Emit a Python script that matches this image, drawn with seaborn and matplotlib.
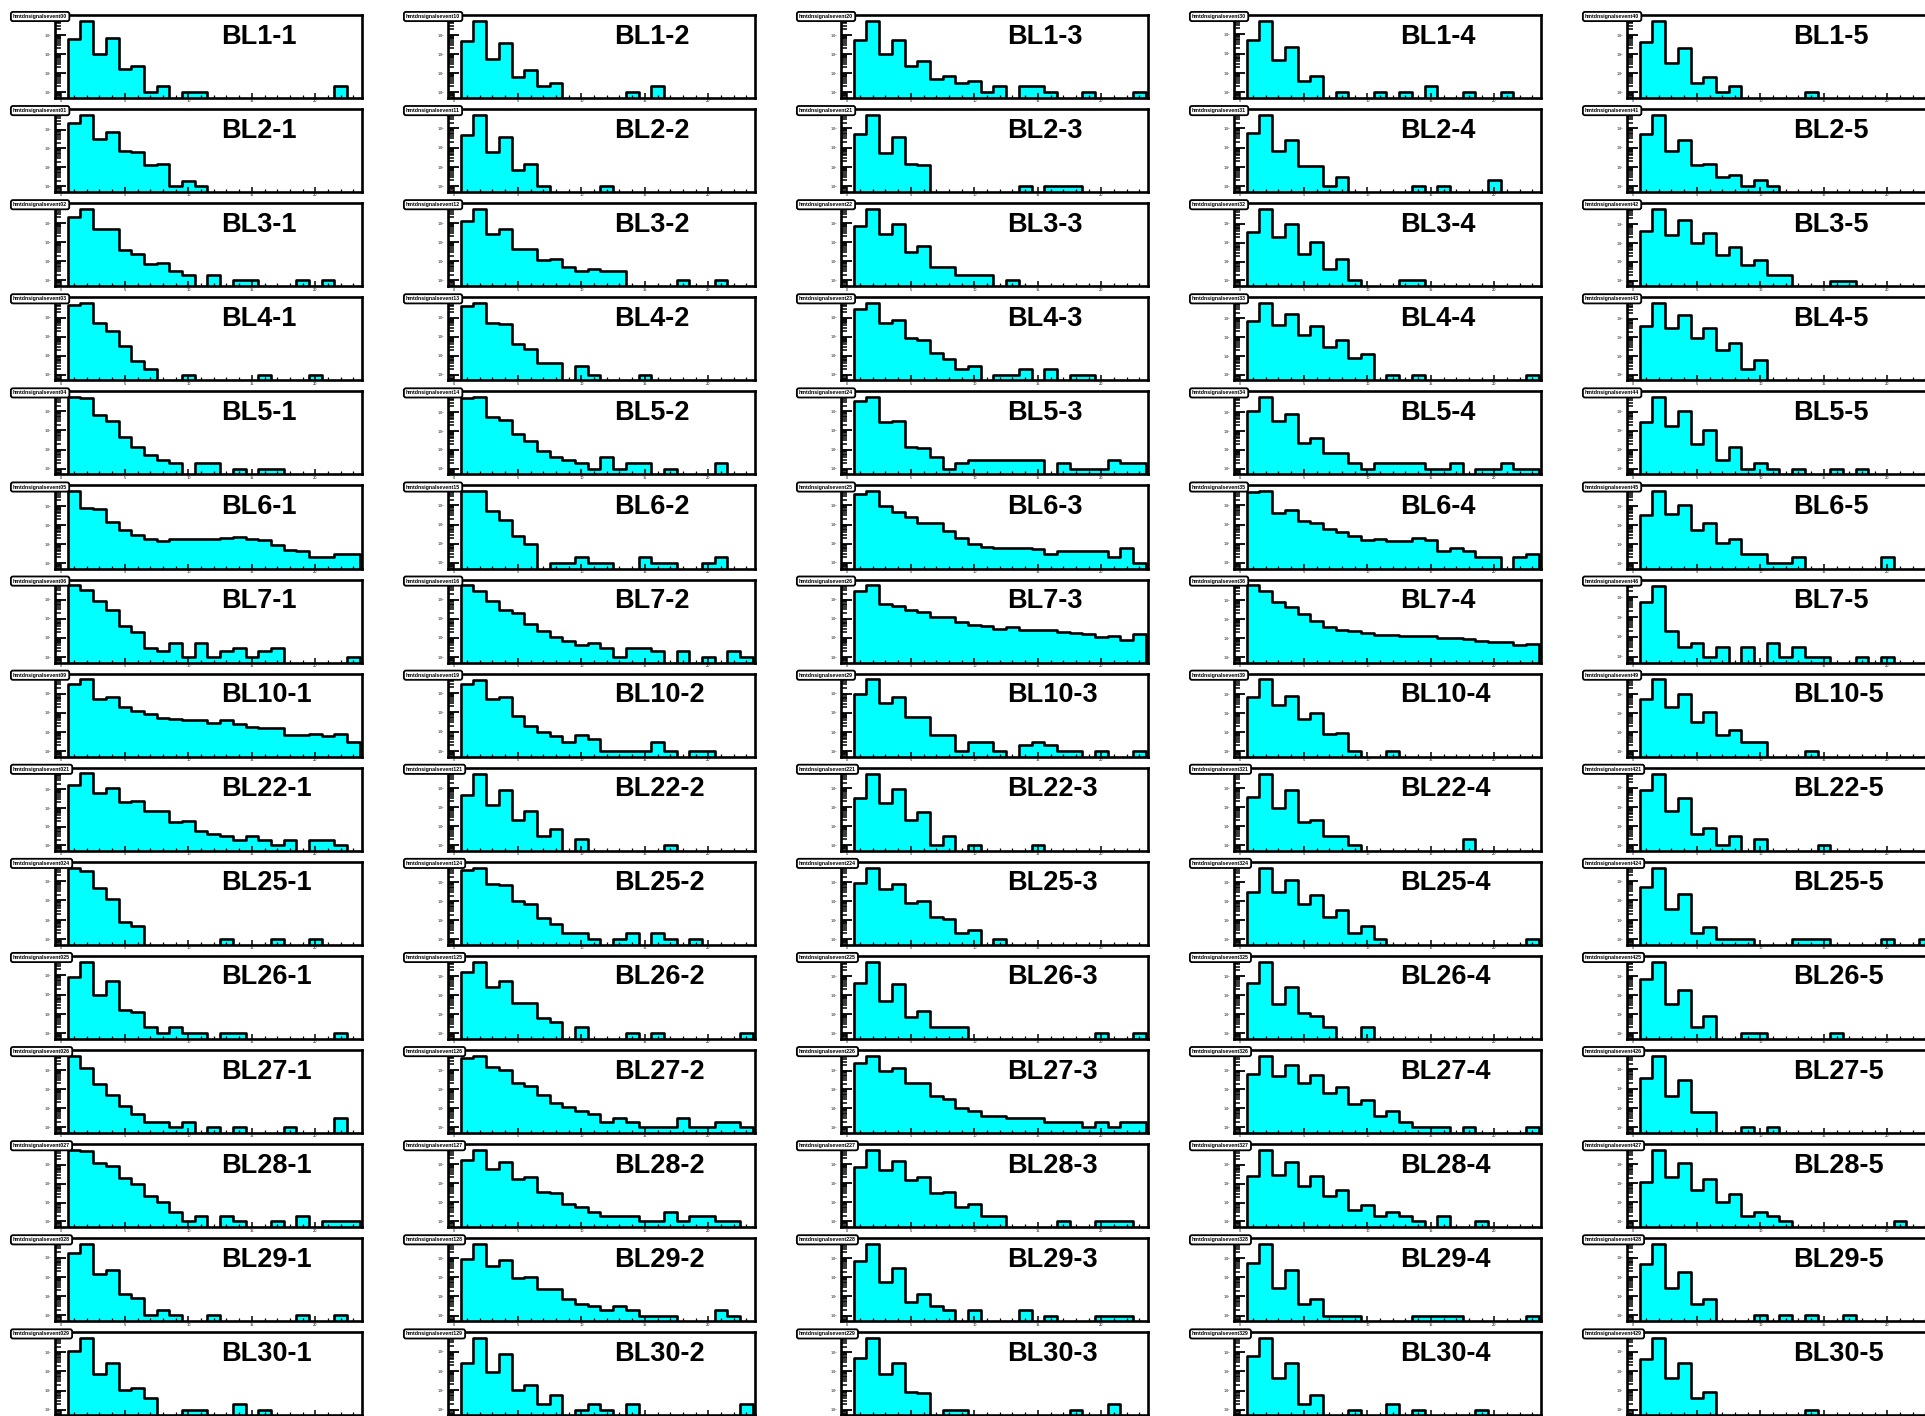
import numpy as np
import pandas as pd
import seaborn as sns
import matplotlib.pyplot as plt
from matplotlib.ticker import LogLocator, MultipleLocator, NullFormatter

# bin contents for bins 1..23 (bin 0 is empty everywhere)
BL1_1 = [620, 5500, 100, 700, 16, 24, 1, 2, 0, 1, 1, 0, 0, 0, 0, 0, 0, 0, 0, 0, 0, 2, 0]
BL1_2 = [470, 5500, 58, 360, 6, 14, 2, 3, 0, 0, 0, 0, 0, 1, 0, 2, 0, 0, 0, 0, 0, 0, 0]
BL1_3 = [550, 5500, 105, 510, 24, 45, 5, 7, 3, 4, 1, 2, 0, 2, 2, 1, 0, 0, 1, 0, 0, 0, 1]
BL1_4 = [510, 5000, 45, 210, 4, 7, 0, 1, 0, 0, 1, 0, 1, 0, 2, 0, 0, 1, 0, 0, 1, 0, 0]
BL1_5 = [420, 5500, 32, 210, 3, 6, 1, 2, 0, 0, 0, 0, 0, 1, 0, 0, 0, 0, 0, 0, 0, 0, 0]

BL2_1 = [2100, 6000, 300, 700, 70, 64, 14, 16, 1, 2, 1, 0, 0, 0, 0, 0, 0, 0, 0, 0, 0, 0, 0]
BL2_2 = [440, 5000, 58, 360, 7, 14, 1, 0, 0, 0, 0, 1, 0, 0, 0, 0, 0, 0, 0, 0, 0, 0, 0]
BL2_3 = [540, 5000, 52, 360, 14, 12, 0, 0, 0, 0, 0, 0, 0, 1, 0, 1, 1, 1, 0, 0, 0, 0, 0]
BL2_4 = [550, 5000, 70, 260, 11, 11, 1, 3, 0, 0, 0, 0, 0, 1, 0, 1, 0, 0, 0, 2, 0, 0, 0]
BL2_5 = [510, 5000, 70, 260, 13, 14, 3, 4, 1, 2, 1, 0, 0, 0, 0, 0, 0, 0, 0, 0, 0, 0, 0]

BL3_1 = [2100, 5500, 470, 500, 40, 24, 7, 8, 3, 2, 0, 2, 0, 1, 1, 0, 0, 0, 1, 0, 1, 0, 0]
BL3_2 = [1250, 5500, 260, 470, 43, 43, 12, 14, 5, 3, 4, 3, 3, 0, 0, 0, 0, 1, 0, 0, 1, 0, 0]
BL3_3 = [690, 5500, 260, 920, 32, 64, 5, 5, 2, 2, 2, 0, 1, 0, 0, 0, 0, 0, 0, 0, 0, 0, 0]
BL3_4 = [380, 6000, 190, 990, 24, 110, 4, 13, 1, 0, 0, 0, 1, 1, 0, 0, 0, 0, 0, 0, 0, 0, 0]
BL3_5 = [430, 6500, 280, 1600, 105, 330, 22, 64, 7, 12, 2, 2, 0, 0, 0, 1, 1, 0, 0, 0, 0, 0, 0]

BL4_1 = [4500, 6000, 550, 190, 32, 5, 2, 0, 0, 1, 0, 0, 0, 0, 0, 1, 0, 0, 0, 1, 0, 0, 0]
BL4_2 = [4000, 6000, 550, 470, 40, 22, 4, 4, 0, 3, 1, 0, 0, 0, 1, 0, 0, 0, 0, 0, 0, 0, 0]
BL4_3 = [2900, 6000, 550, 800, 87, 70, 13, 7, 2, 3, 0, 1, 1, 2, 0, 2, 0, 1, 1, 0, 0, 0, 0]
BL4_4 = [690, 6500, 430, 1700, 135, 380, 30, 70, 8, 13, 0, 1, 0, 1, 0, 0, 0, 0, 0, 0, 0, 0, 1]
BL4_5 = [430, 7000, 330, 1500, 87, 300, 22, 48, 2, 6, 0, 0, 0, 0, 0, 0, 0, 0, 0, 0, 0, 0, 0]

BL5_1 = [5500, 5000, 620, 310, 43, 14, 5, 3, 2, 0, 2, 2, 0, 1, 0, 1, 1, 0, 0, 0, 0, 0, 0]
BL5_2 = [5500, 6000, 550, 380, 64, 29, 9, 4, 3, 2, 1, 4, 1, 2, 2, 0, 1, 0, 0, 0, 2, 0, 0]
BL5_3 = [3300, 5500, 280, 330, 14, 12, 4, 1, 2, 3, 3, 3, 3, 3, 3, 0, 2, 1, 1, 1, 3, 2, 2]
BL5_4 = [1150, 6000, 330, 800, 22, 40, 7, 7, 2, 1, 2, 2, 2, 2, 1, 1, 2, 0, 1, 1, 2, 1, 1]
BL5_5 = [280, 5800, 170, 1100, 19, 110, 3, 14, 1, 2, 1, 0, 1, 0, 0, 1, 0, 1, 0, 0, 0, 0, 0]

BL6_1 = [6000, 760, 690, 140, 52, 29, 18, 14, 18, 17, 18, 19, 20, 22, 19, 16, 9, 5, 4, 2, 2, 3, 3]
BL6_2 = [5500, 5500, 510, 170, 24, 10, 0, 1, 1, 2, 1, 1, 0, 0, 2, 1, 1, 0, 0, 1, 2, 0, 0]
BL6_3 = [4000, 5500, 880, 430, 260, 120, 120, 45, 19, 10, 7, 6, 6, 6, 5, 3, 4, 4, 4, 4, 2, 6, 1]
BL6_4 = [5000, 5500, 400, 550, 150, 115, 55, 42, 24, 16, 17, 14, 14, 19, 16, 4, 6, 4, 2, 2, 0, 2, 3]
BL6_5 = [330, 6000, 360, 1100, 52, 120, 11, 18, 3, 3, 1, 1, 2, 0, 0, 0, 0, 0, 0, 2, 0, 0, 0]

BL7_1 = [5500, 3000, 840, 280, 43, 20, 3, 2, 5, 1, 5, 1, 2, 3, 1, 2, 3, 0, 0, 0, 0, 0, 1]
BL7_2 = [5500, 2900, 800, 280, 200, 52, 22, 11, 7, 4, 5, 3, 1, 3, 3, 2, 0, 2, 0, 1, 0, 2, 1]
BL7_3 = [2900, 5500, 560, 470, 280, 210, 125, 125, 70, 48, 40, 29, 35, 26, 26, 24, 19, 18, 16, 11, 13, 8, 16]
BL7_4 = [5800, 3000, 770, 430, 190, 80, 37, 26, 22, 19, 15, 14, 13, 12, 12, 10, 10, 9, 7, 6, 6, 4, 5]
BL7_5 = [540, 3700, 19, 3, 5, 1, 3, 0, 3, 0, 5, 1, 3, 1, 1, 0, 0, 1, 0, 1, 0, 0, 0]

BL10_1 = [3300, 5500, 530, 650, 190, 120, 87, 55, 48, 40, 40, 29, 40, 25, 18, 16, 15, 7, 7, 8, 6, 8, 3]
BL10_2 = [2900, 5000, 470, 590, 64, 19, 9, 6, 3, 7, 4, 1, 1, 1, 1, 3, 1, 0, 1, 1, 0, 0, 0]
BL10_3 = [1000, 5500, 340, 690, 58, 58, 7, 7, 1, 3, 3, 1, 0, 2, 3, 2, 1, 1, 0, 1, 0, 0, 1]
BL10_4 = [730, 6000, 270, 800, 48, 100, 8, 9, 1, 0, 0, 1, 0, 0, 0, 0, 0, 0, 0, 0, 0, 0, 0]
BL10_5 = [560, 6000, 220, 1000, 35, 115, 7, 13, 3, 3, 0, 0, 0, 1, 0, 0, 0, 0, 0, 0, 0, 0, 0]

BL22_1 = [1700, 7000, 620, 1100, 200, 220, 64, 64, 17, 20, 6, 4, 3, 2, 3, 2, 1, 2, 0, 2, 2, 1, 0]
BL22_2 = [430, 6000, 135, 770, 22, 64, 3, 7, 0, 2, 0, 0, 0, 0, 0, 0, 1, 0, 0, 0, 0, 0, 0]
BL22_3 = [310, 6000, 160, 920, 20, 55, 1, 3, 0, 1, 0, 0, 0, 0, 1, 0, 0, 0, 0, 0, 0, 0, 0]
BL22_4 = [360, 6000, 95, 770, 17, 20, 3, 3, 1, 0, 0, 0, 0, 0, 0, 0, 0, 2, 0, 0, 0, 0, 0]
BL22_5 = [770, 5500, 64, 280, 4, 8, 1, 3, 0, 2, 0, 0, 0, 0, 1, 0, 0, 0, 0, 0, 0, 0, 0]

BL25_1 = [5000, 3300, 470, 115, 8, 5, 0, 0, 0, 0, 0, 0, 1, 0, 0, 0, 1, 0, 0, 1, 0, 0, 0]
BL25_2 = [4500, 6000, 840, 770, 110, 70, 13, 6, 2, 2, 1, 0, 1, 2, 0, 2, 1, 0, 1, 0, 0, 0, 0]
BL25_3 = [920, 6000, 470, 840, 78, 110, 14, 12, 2, 3, 0, 1, 0, 0, 0, 0, 0, 0, 0, 0, 0, 0, 0]
BL25_4 = [310, 6000, 310, 1400, 75, 220, 14, 35, 2, 5, 1, 0, 0, 0, 0, 0, 0, 0, 0, 0, 0, 0, 1]
BL25_5 = [510, 5000, 35, 210, 2, 4, 1, 1, 1, 0, 0, 0, 1, 1, 1, 0, 0, 0, 0, 1, 0, 0, 1]

BL26_1 = [770, 5000, 95, 510, 16, 13, 2, 1, 2, 1, 1, 0, 1, 1, 0, 0, 0, 0, 0, 0, 0, 1, 0]
BL26_2 = [1550, 5500, 260, 510, 40, 40, 6, 4, 0, 2, 0, 0, 0, 1, 0, 1, 0, 0, 0, 0, 0, 0, 1]
BL26_3 = [440, 5500, 48, 380, 7, 14, 2, 2, 2, 0, 0, 0, 0, 0, 0, 0, 0, 0, 0, 1, 0, 0, 1]
BL26_4 = [440, 5500, 33, 260, 12, 8, 2, 0, 0, 2, 0, 0, 0, 0, 0, 0, 0, 0, 0, 0, 0, 0, 0]
BL26_5 = [650, 5500, 32, 190, 2, 8, 0, 0, 1, 1, 0, 0, 0, 0, 0, 1, 0, 0, 0, 0, 0, 0, 0]

BL27_1 = [5500, 1250, 190, 48, 13, 5, 2, 2, 1, 2, 0, 1, 0, 1, 0, 0, 0, 1, 0, 0, 0, 3, 0]
BL27_2 = [4500, 5500, 1400, 1000, 220, 140, 48, 19, 12, 7, 5, 2, 3, 2, 1, 1, 1, 3, 1, 1, 2, 2, 1]
BL27_3 = [2400, 6000, 920, 1300, 210, 210, 45, 32, 10, 7, 4, 4, 3, 3, 3, 2, 2, 2, 1, 2, 1, 2, 2]
BL27_4 = [650, 6000, 540, 2000, 210, 590, 64, 140, 18, 29, 4, 7, 2, 1, 1, 1, 0, 1, 0, 0, 0, 0, 1]
BL27_5 = [350, 5000, 40, 270, 6, 6, 0, 0, 1, 0, 1, 0, 0, 0, 0, 0, 0, 0, 0, 0, 0, 0, 0]

BL28_1 = [6000, 5500, 1250, 840, 190, 95, 22, 11, 3, 1, 2, 0, 2, 1, 0, 0, 1, 0, 2, 0, 1, 1, 1]
BL28_2 = [1550, 5500, 550, 1250, 170, 210, 35, 32, 8, 6, 3, 2, 2, 2, 1, 1, 3, 1, 2, 2, 1, 1, 0]
BL28_3 = [690, 5500, 510, 1400, 140, 220, 32, 35, 6, 8, 2, 2, 0, 0, 0, 0, 1, 0, 0, 1, 1, 1, 0]
BL28_4 = [240, 6000, 280, 1450, 75, 260, 22, 48, 4, 7, 2, 3, 2, 1, 0, 2, 0, 0, 1, 0, 0, 0, 0]
BL28_5 = [115, 5800, 220, 1200, 45, 170, 10, 29, 2, 3, 2, 1, 0, 0, 0, 0, 0, 0, 0, 0, 1, 0, 0]

BL29_1 = [1700, 5000, 140, 220, 13, 8, 1, 2, 1, 0, 0, 1, 0, 0, 0, 0, 0, 0, 1, 0, 0, 1, 0]
BL29_2 = [920, 5500, 380, 770, 95, 105, 24, 26, 7, 4, 3, 2, 3, 2, 1, 1, 1, 0, 0, 0, 2, 1, 0]
BL29_3 = [690, 5500, 55, 300, 5, 13, 3, 2, 0, 2, 0, 0, 0, 2, 0, 1, 0, 0, 0, 1, 1, 1, 0]
BL29_4 = [540, 5500, 29, 240, 4, 7, 1, 1, 1, 0, 0, 0, 0, 1, 1, 1, 1, 0, 0, 0, 0, 0, 1]
BL29_5 = [490, 5000, 26, 190, 4, 7, 0, 0, 0, 1, 0, 1, 0, 1, 0, 0, 1, 0, 0, 0, 0, 0, 0]

BL30_1 = [1200, 5500, 70, 260, 11, 14, 4, 0, 0, 1, 1, 0, 0, 2, 0, 1, 0, 0, 0, 0, 0, 0, 0]
BL30_2 = [260, 5000, 87, 770, 10, 19, 2, 6, 0, 1, 2, 1, 0, 2, 0, 0, 0, 0, 0, 0, 0, 0, 2]
BL30_3 = [510, 5500, 70, 280, 8, 7, 0, 1, 1, 0, 0, 0, 0, 0, 0, 0, 0, 1, 0, 0, 2, 0, 0]
BL30_4 = [620, 5500, 43, 280, 2, 6, 0, 0, 1, 0, 0, 2, 0, 1, 0, 0, 0, 0, 1, 0, 0, 0, 0]
BL30_5 = [430, 5000, 43, 260, 4, 8, 0, 0, 0, 0, 0, 0, 0, 1, 0, 0, 0, 0, 0, 0, 0, 0, 0]

lines = ["BL1", "BL2", "BL3", "BL4", "BL5", "BL6", "BL7", "BL10",
         "BL22", "BL25", "BL26", "BL27", "BL28", "BL29", "BL30"]
line_codes = ["0", "1", "2", "3", "4", "5", "6", "9",
              "21", "24", "25", "26", "27", "28", "29"]
modules = ["1", "2", "3", "4", "5"]

grid = [
    [BL1_1, BL1_2, BL1_3, BL1_4, BL1_5],
    [BL2_1, BL2_2, BL2_3, BL2_4, BL2_5],
    [BL3_1, BL3_2, BL3_3, BL3_4, BL3_5],
    [BL4_1, BL4_2, BL4_3, BL4_4, BL4_5],
    [BL5_1, BL5_2, BL5_3, BL5_4, BL5_5],
    [BL6_1, BL6_2, BL6_3, BL6_4, BL6_5],
    [BL7_1, BL7_2, BL7_3, BL7_4, BL7_5],
    [BL10_1, BL10_2, BL10_3, BL10_4, BL10_5],
    [BL22_1, BL22_2, BL22_3, BL22_4, BL22_5],
    [BL25_1, BL25_2, BL25_3, BL25_4, BL25_5],
    [BL26_1, BL26_2, BL26_3, BL26_4, BL26_5],
    [BL27_1, BL27_2, BL27_3, BL27_4, BL27_5],
    [BL28_1, BL28_2, BL28_3, BL28_4, BL28_5],
    [BL29_1, BL29_2, BL29_3, BL29_4, BL29_5],
    [BL30_1, BL30_2, BL30_3, BL30_4, BL30_5],
]

bin_centers = np.arange(1, 24)

W, H = 1925, 1416
fig = plt.figure(figsize=(W / 100, H / 100), dpi=100)
fig.patch.set_facecolor("white")

for r, line in enumerate(lines):
    for c, mod in enumerate(modules):
        counts = np.array(grid[r][c], dtype=float)
        x0 = 55 + 393 * c
        y0 = 15 + 94.1 * r
        ax = fig.add_axes([x0 / W, 1 - (y0 + 83) / H, 307 / W, 83 / H])
        df = pd.DataFrame({"bin": bin_centers, "n": counts})
        sns.histplot(data=df, x="bin", weights="n", binwidth=1, binrange=(-0.5, 23.5),
                     element="step", fill=True, color="#00ffff", alpha=1,
                     edgecolor="black", linewidth=1.9, ax=ax)
        ax.set_yscale("log")
        ax.set_ylim(0.5, counts.max() * 2)
        ax.set_xlim(-0.5, 23.67)
        ax.set_xlabel("")
        ax.set_ylabel("")
        for s in ax.spines.values():
            s.set_linewidth(1.9)
            s.set_color("black")
        # log axis: dense comb of inward ticks like ROOT
        ax.yaxis.set_major_locator(LogLocator(base=10))
        ax.yaxis.set_minor_locator(LogLocator(base=10, subs=np.arange(2, 10)))
        ax.yaxis.set_minor_formatter(NullFormatter())
        ax.xaxis.set_major_locator(MultipleLocator(5))
        ax.xaxis.set_minor_locator(MultipleLocator(1))
        ax.tick_params(axis="both", which="both", direction="in")
        ax.tick_params(axis="y", which="major", length=8, width=1.3,
                       labelsize=2.5, pad=2)
        ax.tick_params(axis="y", which="minor", length=4.5, width=1.1)
        ax.tick_params(axis="x", which="major", length=3.5, width=1.1,
                       labelsize=2.5, pad=1)
        ax.tick_params(axis="x", which="minor", length=2, width=0.9)

        name = "hmtdnsignalsevent" + str(c) + line_codes[r]
        fig.text((x0 - 42) / W, 1 - (y0 + 1.5) / H, name, fontsize=3.8,
                 fontweight="bold", va="center", ha="left",
                 family="Liberation Sans",
                 bbox=dict(boxstyle="round,pad=0.4", fc="white", ec="black", lw=1.3))
        fig.text((x0 + 166) / W, 1 - (y0 + 28.5) / H, f"{line}-{mod}",
                 fontsize=19.5, fontweight="bold", family="Liberation Sans",
                 va="baseline", ha="left")

fig.savefig("out.png", dpi=100)
